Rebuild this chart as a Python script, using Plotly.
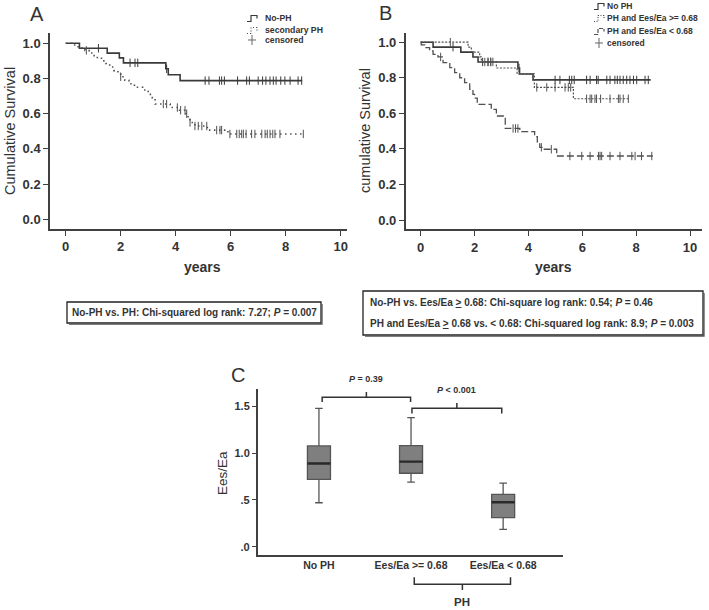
import plotly.graph_objects as go

W, H = 709, 610
def X(px): return px / W
def Y(py): return 1 - py / H

FONT = "Liberation Sans, Arial, sans-serif"
DARK = "#3a3a3a"
MID = "#505050"

# ---------------- Panel A data ----------------
a_noph_t = [0, 0.5, 1.51, 1.95, 2.1, 3.64, 3.73, 4.16, 8.6]
a_noph_s = [1.0, 0.972, 0.944, 0.917, 0.889, 0.855, 0.821, 0.788, 0.788]
a_noph_cens = [1.19, 2.34, 2.52, 2.62, 3.67, 5.07, 5.21, 5.59, 5.67, 5.77, 6.25, 6.58,
               6.68, 7.0, 7.16, 7.28, 7.43, 7.55, 7.65, 7.82, 7.97, 8.16, 8.45, 8.58]

a_ph_t = [0, 0.25, 0.45, 0.7, 0.85, 1.0, 1.15, 1.3, 1.45, 1.6, 1.75, 1.9, 2.0, 2.15, 2.3,
          2.5, 2.8, 3.0, 3.15, 3.25, 3.8, 4.1, 4.35, 4.45, 4.52, 4.7, 5.15, 5.9, 8.64]
a_ph_s = [1.0, 0.99, 0.975, 0.96, 0.945, 0.93, 0.915, 0.9, 0.885, 0.865, 0.845, 0.825, 0.81,
          0.79, 0.77, 0.75, 0.735, 0.71, 0.69, 0.655, 0.635, 0.62, 0.6, 0.575, 0.55, 0.53,
          0.507, 0.485, 0.485]
a_ph_cens = [0.75, 2.0, 3.55, 3.67, 4.06, 4.18, 4.34, 4.4, 4.52, 4.7, 4.82, 4.95, 5.13,
             5.49, 5.61, 5.67, 5.97, 6.22, 6.31, 6.4, 6.46, 6.56, 6.76, 6.88, 7.13, 7.25,
             7.33, 7.43, 7.53, 7.61, 7.79, 8.64]

# ---------------- Panel B data ----------------
b_noph_t = [0, 0.46, 1.49, 1.94, 2.13, 3.61, 3.67, 4.17, 8.54]
b_noph_s = [1.0, 0.972, 0.944, 0.917, 0.889, 0.855, 0.821, 0.788, 0.788]
b_noph_cens = [1.2, 2.3, 2.5, 2.6, 3.65, 4.99, 5.17, 5.52, 5.61, 5.7, 6.16, 6.29, 6.53,
               6.59, 6.91, 7.03, 7.21, 7.3, 7.4, 7.52, 7.65, 7.77, 7.9, 8.02, 8.33, 8.45]

b_hi_t = [0, 1.76, 1.88, 2.19, 2.25, 2.81, 3.58, 4.22, 5.67, 7.77]
b_hi_s = [1.0, 0.972, 0.944, 0.917, 0.889, 0.855, 0.822, 0.746, 0.682, 0.682]
b_hi_cens = [1.1, 2.38, 2.5, 2.6, 2.68, 4.31, 4.68, 4.99, 5.36, 5.48, 5.57, 6.16, 6.29,
             6.35, 6.47, 6.53, 6.68, 7.03, 7.34, 7.4, 7.52, 7.71]

b_lo_t = [0, 0.02, 0.15, 0.33, 0.46, 0.64, 0.83, 1.08, 1.26, 1.45, 1.63, 1.82, 1.94, 2.0,
          2.1, 2.62, 2.81, 3.14, 3.68, 4.23, 4.33, 4.42, 4.54, 5.05, 8.62]
b_lo_s = [1.0, 0.985, 0.97, 0.951, 0.932, 0.917, 0.885, 0.857, 0.829, 0.8, 0.773, 0.735,
          0.707, 0.685, 0.65, 0.622, 0.585, 0.515, 0.497, 0.469, 0.44, 0.409, 0.398, 0.36, 0.36]
b_lo_cens = [0.74, 3.43, 3.52, 3.61, 4.48, 4.85, 5.54, 5.98, 6.29, 6.6, 6.66, 6.72, 7.03,
             7.4, 7.84, 7.96, 8.2, 8.58]

# ---------------- Panel C data ----------------
c_groups = ["No PH", "Ees/Ea >= 0.68", "Ees/Ea &lt; 0.68"]
c_low = [0.47, 0.69, 0.186]
c_q1 = [0.72, 0.785, 0.31]
c_med = [0.89, 0.91, 0.475]
c_q3 = [1.077, 1.08, 0.56]
c_high = [1.48, 1.38, 0.68]

km_ticks = [0, 2, 4, 6, 8, 10]
km_ticktext = ["0", "2", "4", "6", "8", "10"]
surv_ticks = [0.0, 0.2, 0.4, 0.6, 0.8, 1.0]
surv_ticktext = ["0.0", "0.2", "0.4", "0.6", "0.8", "1.0"]
c_yticks = [0.0, 0.5, 1.0, 1.5]
c_yticktext = [".0", ".5", "1.0", "1.5"]


def bold(lst):
    return ["<b>" + s + "</b>" for s in lst]


def step_val(ts, ss, t):
    v = ss[0]
    for ti, si in zip(ts, ss):
        if ti <= t:
            v = si
        else:
            break
    return v


fig = go.Figure()


def km(t, s, cens, ax, color, width, dash):
    fig.add_trace(go.Scatter(x=t, y=s, mode="lines", xaxis="x" + ax, yaxis="y" + ax,
                             line=dict(shape="hv", color=color, width=width, dash=dash),
                             showlegend=False, hoverinfo="skip"))
    fig.add_trace(go.Scatter(x=cens, y=[step_val(t, s, c) for c in cens], mode="markers",
                             xaxis="x" + ax, yaxis="y" + ax,
                             marker=dict(symbol="line-ns", size=6, color=color,
                                         line=dict(width=1, color=color)),
                             showlegend=False, hoverinfo="skip"))


km(a_noph_t, a_noph_s, a_noph_cens, "", DARK, 1.6, "solid")
km(a_ph_t, a_ph_s, a_ph_cens, "", MID, 1.6, "1.5px,3.5px")
km(b_noph_t, b_noph_s, b_noph_cens, "2", DARK, 1.6, "solid")
km(b_hi_t, b_hi_s, b_hi_cens, "2", MID, 1.2, "2px,1.5px")
km(b_lo_t, b_lo_s, b_lo_cens, "2", MID, 1.3, "7px,3px")

# boxes
for i in range(3):
    fig.add_trace(go.Box(x=[i], q1=[c_q1[i]], median=[c_med[i]], q3=[c_q3[i]],
                         lowerfence=[c_low[i]], upperfence=[c_high[i]],
                         xaxis="x3", yaxis="y3", width=0.25, whiskerwidth=0.33,
                         fillcolor="#7f7f7f", line=dict(color="#555555", width=1.3),
                         showlegend=False, hoverinfo="skip", boxpoints=False))
    fig.add_trace(go.Scatter(x=[i - 0.125, i + 0.125], y=[c_med[i], c_med[i]], mode="lines",
                             xaxis="x3", yaxis="y3", line=dict(color="#2a2a2a", width=2.4),
                             showlegend=False, hoverinfo="skip"))

axcommon = dict(showgrid=False, zeroline=False, showline=True, linecolor="#404040",
                linewidth=1.5, ticks="outside", ticklen=5, tickwidth=1.2, tickcolor="#404040",
                tickfont=dict(family=FONT, size=13, color="#333333"))

fig.update_layout(
    width=W, height=H, margin=dict(l=0, r=0, t=0, b=0),
    paper_bgcolor="white", plot_bgcolor="white",
    xaxis=dict(axcommon, domain=[X(50), X(346.7)], range=[-0.571, 10.218], tickvals=km_ticks,
               ticktext=bold(km_ticktext), anchor="y"),
    yaxis=dict(axcommon, domain=[Y(229), Y(33)], range=[-0.055, 1.0585], tickvals=surv_ticks,
               ticktext=bold(surv_ticktext), anchor="x"),
    xaxis2=dict(axcommon, domain=[X(405.7), X(701.7)], range=[-0.557, 10.434], tickvals=km_ticks,
                ticktext=bold(km_ticktext), anchor="y2"),
    yaxis2=dict(axcommon, domain=[Y(229.3), Y(33.3)], range=[-0.052, 1.05], tickvals=surv_ticks,
                ticktext=bold(surv_ticktext), anchor="x2"),
    xaxis3=dict(axcommon, domain=[X(257.7), X(563)], range=[-0.665, 2.65], tickvals=[0, 1, 2],
                ticktext=bold(c_groups), ticks="", anchor="y3",
                tickfont=dict(family=FONT, size=10.5, color="#333333")),
    yaxis3=dict(axcommon, domain=[Y(555), Y(389.3)], range=[-0.089, 1.683], tickvals=c_yticks,
                ticktext=bold(c_yticktext), anchor="x3", ticklen=4,
                tickfont=dict(family=FONT, size=11, color="#333333")),
)

shapes = []
ann = []


def text(px, py, s, size, bold=False, xanchor="center", angle=0):
    ann.append(dict(x=X(px), y=Y(py), xref="paper", yref="paper", text=s, showarrow=False,
                    xanchor=xanchor, yanchor="middle", textangle=angle,
                    font=dict(family=FONT, size=size, color="#333333",
                              weight="bold" if bold else "normal")))


def line(pts, color="#333333", width=1.5, dash="solid"):
    path = "M " + " L ".join(f"{X(a):.5f},{Y(b):.5f}" for a, b in pts)
    shapes.append(dict(type="path", path=path, xref="paper", yref="paper",
                       line=dict(color=color, width=width, dash=dash)))


# panel letters
text(37, 14, "A", 20)
text(385, 13, "B", 20)
text(238, 375, "C", 20)

# axis titles
text(10, 131, "Cumulative Survival", 14.5, angle=-90)
text(202, 267, "years", 14, bold=True)
text(365, 131, "cumulative Survival", 14.5, angle=-90)
text(553, 267, "years", 14, bold=True)
text(222, 473, "Ees/Ea", 13.5, angle=-90)


def glyph(x0, y0, color, width, dash):
    line([(x0, y0 + 3), (x0 + 4, y0 + 3), (x0 + 4, y0 - 3), (x0 + 10, y0 - 3), (x0 + 10, y0)],
         color, width, dash)


def cross(x0, y0, color):
    line([(x0 - 4, y0), (x0 + 4, y0)], color, 1)
    line([(x0, y0 - 5), (x0, y0 + 5)], color, 1)


# legend A
glyph(247, 18.5, DARK, 1.2, "solid")
text(263, 18, "No-PH", 8.7, bold=True, xanchor="left")
glyph(247, 30.5, MID, 1.2, "1px,2px")
text(263, 30, "secondary PH", 8.7, bold=True, xanchor="left")
cross(252, 40, "#666666")
text(263, 40, "censored", 8.7, bold=True, xanchor="left")

# legend B
glyph(594, 6.5, DARK, 1.2, "solid")
text(605, 6, "No PH", 8.5, bold=True, xanchor="left")
glyph(594, 18.5, MID, 1.2, "1px,1.5px")
text(605, 18, "PH and Ees/Ea >= 0.68", 8.5, bold=True, xanchor="left")
glyph(594, 31.5, MID, 1.2, "4px,1.5px")
text(605, 31, "PH and Ees/Ea &lt; 0.68", 8.5, bold=True, xanchor="left")
cross(599, 43, "#666666")
text(605, 43, "censored", 8.5, bold=True, xanchor="left")

# stats boxes
def box(x0, y0, x1, y1):
    shapes.append(dict(type="rect", xref="paper", yref="paper", x0=X(x0), y0=Y(y1),
                       x1=X(x1), y1=Y(y0), line=dict(color="#222222", width=1.3)))
    line([(x0 + 2, y1 + 1), (x1 + 1, y1 + 1), (x1 + 1, y0 + 2)], "#555555", 1.3)


box(67, 302, 321, 323)
text(194, 312.5, "No-PH vs. PH: Chi-squared log rank: 7.27; <i>P</i> = 0.007", 10, bold=True)
box(363, 291, 703, 335)
text(368, 302, "No-PH vs. Ees/Ea <u>&gt;</u> 0.68: Chi-square log rank: 0.54; <i>P</i> = 0.46",
     10, bold=True, xanchor="left")
text(368, 324, "PH and Ees/Ea <u>&gt;</u> 0.68 vs. &lt; 0.68: Chi-squared log rank: 8.9; <i>P</i> = 0.003",
     10, bold=True, xanchor="left")

# brackets panel C (x positions from category axis)
def xc(v):
    return 257.7 + (v + 0.665) * (563 - 257.7) / (2.65 + 0.665)

def bracket(v0, v1, ybar, yend, ytick):
    line([(xc(v0), yend), (xc(v0), ybar), (xc(v1), ybar), (xc(v1), yend)], "#333333", 1.5)
    xm = (xc(v0) + xc(v1)) / 2
    line([(xm, ybar), (xm, ytick)], "#333333", 1.5)


bracket(0.035, 0.995, 397.3, 402, 392)
text((xc(0.035) + xc(0.995)) / 2, 379, "<i>P</i> = 0.39", 9, bold=True)
bracket(1.01, 1.985, 408.3, 413.5, 403)
text((xc(1.01) + xc(1.985)) / 2, 389.5, "<i>P</i> &lt; 0.001", 9, bold=True)
bracket(1.035, 2.08, 584.3, 577.3, 590)
text((xc(1.035) + xc(2.08)) / 2, 602, "PH", 11.5, bold=True)

fig.update_layout(shapes=shapes, annotations=ann)
fig.write_html("out.html", config={"displayModeBar": False},
               post_script="document.body.style.margin='0';document.body.style.padding='0';")
